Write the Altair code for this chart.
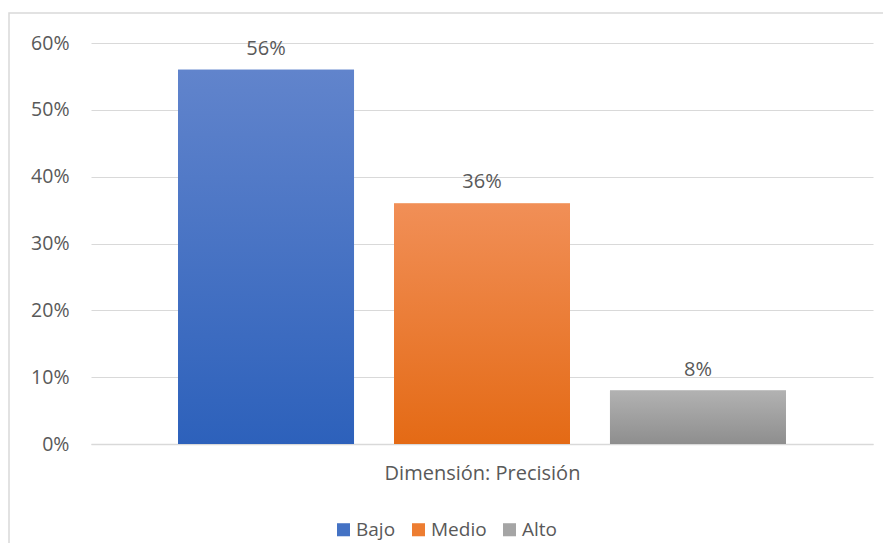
import altair as alt
import pandas as pd

categories = ["Bajo", "Medio", "Alto"]
values = [0.56, 0.36, 0.08]
solid_colors = ["#4472c4", "#ed7d31", "#a5a5a5"]
grad_top = ["#6184cc", "#f18f57", "#b2b2b2"]
grad_bottom = ["#2d61bb", "#e46a15", "#8e8e8e"]
x_title = "Dimensión: Precisión"

df = pd.DataFrame({"cat": categories, "val": values})

FONT = "Open Sans"
TXT = "#595959"

x_enc = alt.X(
    "cat:N",
    sort=categories,
    scale=alt.Scale(paddingInner=40 / 216, paddingOuter=0.403),
    axis=alt.Axis(
        title=x_title, labels=False, ticks=False, domain=True,
        domainColor="#d9d9d9", domainWidth=1.5, titleFontSize=20,
        titleFontWeight="normal", titleColor=TXT, titleFont=FONT,
        titlePadding=19,
    ),
)
y_enc = alt.Y(
    "val:Q",
    scale=alt.Scale(domain=[0, 0.6], nice=False),
    axis=alt.Axis(
        title=None, format=".0%", values=[0, 0.1, 0.2, 0.3, 0.4, 0.5, 0.6],
        domain=False, ticks=False, labelPadding=22, labelFontSize=19.5,
        labelColor=TXT, labelFont=FONT, gridColor="#d9d9d9", gridWidth=1.2,
    ),
)

base = alt.Chart(df)

legend_layer = base.mark_bar().encode(
    x=x_enc,
    y=y_enc,
    color=alt.Color(
        "cat:N",
        sort=categories,
        scale=alt.Scale(domain=categories, range=solid_colors),
        legend=alt.Legend(
            title=None, orient="none", direction="horizontal",
            legendX=243, legendY=477, symbolType="square", symbolSize=170,
            symbolStrokeWidth=0, labelFontSize=19, labelColor=TXT,
            labelFont=FONT, columnPadding=13, labelOffset=3,
        ),
    ),
)

grad_layers = []
for c, top, bot in zip(categories, grad_top, grad_bottom):
    g = alt.Gradient(
        gradient="linear",
        stops=[alt.GradientStop(color=top, offset=0),
               alt.GradientStop(color=bot, offset=1)],
        x1=0, x2=0, y1=0, y2=1,
    )
    grad_layers.append(
        base.transform_filter(alt.datum.cat == c)
        .mark_bar(color=g)
        .encode(x=x_enc, y=y_enc)
    )

labels = base.mark_text(
    baseline="bottom", dy=-11, fontSize=20, color=TXT, font=FONT
).encode(x=x_enc, y=y_enc, text=alt.Text("val:Q", format=".0%"))

border = alt.Chart(pd.DataFrame({"a": [0]})).mark_rect(
    fill=None, stroke="#d9d9d9", strokeWidth=1.5
).encode(
    x=alt.value(-82), x2=alt.value(840), y=alt.value(-30), y2=alt.value(560)
)

chart = alt.layer(border, legend_layer, *grad_layers, labels).properties(
    width=782, height=401,
    autosize=alt.AutoSizeParams(type="none"),
    padding={"left": 83, "top": 35, "right": 10, "bottom": 99},
    background="white",
).configure_view(stroke=None)

chart.save("out.html", embed_options={"renderer": "svg", "actions": False})
